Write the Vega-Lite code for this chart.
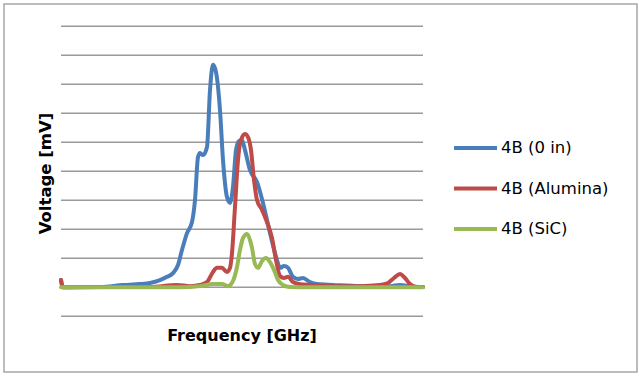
{
  "$schema": "https://vega.github.io/schema/vega-lite/v6.json",
  "width": 640,
  "height": 378,
  "autosize": {"type": "fit", "contains": "padding"},
  "padding": {"left": 4, "top": 4, "right": 3, "bottom": 6},
  "background": "white",
  "config": {
    "view": {"stroke": "#a6a6a6", "strokeWidth": 1.5},
    "font": "DejaVu Sans"
  },
  "datasets": {
    "grid": [{"g": -1}, {"g": 0}, {"g": 1}, {"g": 2}, {"g": 3}, {"g": 4}, {"g": 5}, {"g": 6}, {"g": 7}, {"g": 8}, {"g": 9}],
    "series": [
      {"s": "4B (0 in)", "f": 0, "v": 0.25},
      {"s": "4B (0 in)", "f": 2, "v": 0},
      {"s": "4B (0 in)", "f": 19, "v": 0.01},
      {"s": "4B (0 in)", "f": 39, "v": 0.01},
      {"s": "4B (0 in)", "f": 62, "v": 0.08},
      {"s": "4B (0 in)", "f": 79, "v": 0.11},
      {"s": "4B (0 in)", "f": 89, "v": 0.15},
      {"s": "4B (0 in)", "f": 99, "v": 0.25},
      {"s": "4B (0 in)", "f": 106, "v": 0.36},
      {"s": "4B (0 in)", "f": 112, "v": 0.49},
      {"s": "4B (0 in)", "f": 117, "v": 0.77},
      {"s": "4B (0 in)", "f": 121, "v": 1.29},
      {"s": "4B (0 in)", "f": 126, "v": 1.87},
      {"s": "4B (0 in)", "f": 131, "v": 2.25},
      {"s": "4B (0 in)", "f": 134, "v": 3.01},
      {"s": "4B (0 in)", "f": 137, "v": 4.49},
      {"s": "4B (0 in)", "f": 139, "v": 4.63},
      {"s": "4B (0 in)", "f": 142, "v": 4.56},
      {"s": "4B (0 in)", "f": 146, "v": 4.84},
      {"s": "4B (0 in)", "f": 149, "v": 6.8},
      {"s": "4B (0 in)", "f": 152, "v": 7.67},
      {"s": "4B (0 in)", "f": 155, "v": 7.42},
      {"s": "4B (0 in)", "f": 159, "v": 6.11},
      {"s": "4B (0 in)", "f": 162, "v": 4.39},
      {"s": "4B (0 in)", "f": 166, "v": 3.11},
      {"s": "4B (0 in)", "f": 169, "v": 2.91},
      {"s": "4B (0 in)", "f": 172, "v": 3.46},
      {"s": "4B (0 in)", "f": 175, "v": 4.73},
      {"s": "4B (0 in)", "f": 178, "v": 5.04},
      {"s": "4B (0 in)", "f": 181, "v": 5.08},
      {"s": "4B (0 in)", "f": 184, "v": 4.73},
      {"s": "4B (0 in)", "f": 189, "v": 4.04},
      {"s": "4B (0 in)", "f": 196, "v": 3.63},
      {"s": "4B (0 in)", "f": 202, "v": 2.91},
      {"s": "4B (0 in)", "f": 209, "v": 1.87},
      {"s": "4B (0 in)", "f": 216, "v": 0.94},
      {"s": "4B (0 in)", "f": 219, "v": 0.67},
      {"s": "4B (0 in)", "f": 223, "v": 0.73},
      {"s": "4B (0 in)", "f": 227, "v": 0.67},
      {"s": "4B (0 in)", "f": 232, "v": 0.36},
      {"s": "4B (0 in)", "f": 237, "v": 0.29},
      {"s": "4B (0 in)", "f": 242, "v": 0.32},
      {"s": "4B (0 in)", "f": 249, "v": 0.18},
      {"s": "4B (0 in)", "f": 256, "v": 0.11},
      {"s": "4B (0 in)", "f": 272, "v": 0.08},
      {"s": "4B (0 in)", "f": 299, "v": 0.04},
      {"s": "4B (0 in)", "f": 329, "v": 0.04},
      {"s": "4B (0 in)", "f": 339, "v": 0.08},
      {"s": "4B (0 in)", "f": 349, "v": 0.04},
      {"s": "4B (0 in)", "f": 362, "v": 0.01},
      {"s": "4B (Alumina)", "f": 0, "v": 0.25},
      {"s": "4B (Alumina)", "f": 2, "v": 0},
      {"s": "4B (Alumina)", "f": 39, "v": 0.01},
      {"s": "4B (Alumina)", "f": 89, "v": 0.01},
      {"s": "4B (Alumina)", "f": 116, "v": 0.08},
      {"s": "4B (Alumina)", "f": 129, "v": 0.04},
      {"s": "4B (Alumina)", "f": 139, "v": 0.08},
      {"s": "4B (Alumina)", "f": 146, "v": 0.18},
      {"s": "4B (Alumina)", "f": 152, "v": 0.53},
      {"s": "4B (Alumina)", "f": 156, "v": 0.67},
      {"s": "4B (Alumina)", "f": 161, "v": 0.67},
      {"s": "4B (Alumina)", "f": 166, "v": 0.53},
      {"s": "4B (Alumina)", "f": 169, "v": 0.67},
      {"s": "4B (Alumina)", "f": 171, "v": 1.18},
      {"s": "4B (Alumina)", "f": 174, "v": 2.77},
      {"s": "4B (Alumina)", "f": 177, "v": 4.39},
      {"s": "4B (Alumina)", "f": 180, "v": 5.08},
      {"s": "4B (Alumina)", "f": 184, "v": 5.29},
      {"s": "4B (Alumina)", "f": 187, "v": 5.18},
      {"s": "4B (Alumina)", "f": 190, "v": 4.73},
      {"s": "4B (Alumina)", "f": 193, "v": 3.7},
      {"s": "4B (Alumina)", "f": 196, "v": 3.01},
      {"s": "4B (Alumina)", "f": 201, "v": 2.67},
      {"s": "4B (Alumina)", "f": 206, "v": 2.25},
      {"s": "4B (Alumina)", "f": 211, "v": 1.7},
      {"s": "4B (Alumina)", "f": 215, "v": 0.94},
      {"s": "4B (Alumina)", "f": 219, "v": 0.39},
      {"s": "4B (Alumina)", "f": 223, "v": 0.32},
      {"s": "4B (Alumina)", "f": 227, "v": 0.36},
      {"s": "4B (Alumina)", "f": 232, "v": 0.18},
      {"s": "4B (Alumina)", "f": 239, "v": 0.11},
      {"s": "4B (Alumina)", "f": 249, "v": 0.08},
      {"s": "4B (Alumina)", "f": 269, "v": 0.04},
      {"s": "4B (Alumina)", "f": 299, "v": 0.04},
      {"s": "4B (Alumina)", "f": 319, "v": 0.08},
      {"s": "4B (Alumina)", "f": 327, "v": 0.15},
      {"s": "4B (Alumina)", "f": 333, "v": 0.32},
      {"s": "4B (Alumina)", "f": 339, "v": 0.46},
      {"s": "4B (Alumina)", "f": 344, "v": 0.32},
      {"s": "4B (Alumina)", "f": 349, "v": 0.11},
      {"s": "4B (Alumina)", "f": 355, "v": 0.01},
      {"s": "4B (Alumina)", "f": 362, "v": 0.01},
      {"s": "4B (SiC)", "f": 0, "v": 0},
      {"s": "4B (SiC)", "f": 39, "v": 0},
      {"s": "4B (SiC)", "f": 119, "v": 0},
      {"s": "4B (SiC)", "f": 139, "v": 0.04},
      {"s": "4B (SiC)", "f": 152, "v": 0.11},
      {"s": "4B (SiC)", "f": 161, "v": 0.11},
      {"s": "4B (SiC)", "f": 167, "v": 0.04},
      {"s": "4B (SiC)", "f": 172, "v": 0.22},
      {"s": "4B (SiC)", "f": 176, "v": 0.7},
      {"s": "4B (SiC)", "f": 179, "v": 1.29},
      {"s": "4B (SiC)", "f": 182, "v": 1.7},
      {"s": "4B (SiC)", "f": 186, "v": 1.84},
      {"s": "4B (SiC)", "f": 189, "v": 1.63},
      {"s": "4B (SiC)", "f": 191, "v": 1.36},
      {"s": "4B (SiC)", "f": 194, "v": 0.8},
      {"s": "4B (SiC)", "f": 197, "v": 0.67},
      {"s": "4B (SiC)", "f": 201, "v": 0.91},
      {"s": "4B (SiC)", "f": 205, "v": 1.01},
      {"s": "4B (SiC)", "f": 209, "v": 0.87},
      {"s": "4B (SiC)", "f": 213, "v": 0.6},
      {"s": "4B (SiC)", "f": 217, "v": 0.25},
      {"s": "4B (SiC)", "f": 222, "v": 0.08},
      {"s": "4B (SiC)", "f": 229, "v": 0.01},
      {"s": "4B (SiC)", "f": 249, "v": 0},
      {"s": "4B (SiC)", "f": 362, "v": 0}
    ]
  },
  "layer": [
    {
      "data": {"name": "grid"},
      "mark": {"type": "rule", "color": "#9a9a9a", "strokeWidth": 1.4},
      "encoding": {
        "y": {"field": "g", "type": "quantitative"},
        "x": {"datum": 0, "type": "quantitative"},
        "x2": {"datum": 362}
      }
    },
    {
      "data": {"name": "series"},
      "mark": {"type": "line", "interpolate": "monotone", "strokeWidth": 4, "strokeCap": "round", "strokeJoin": "round"},
      "encoding": {
        "x": {
          "field": "f", "type": "quantitative",
          "scale": {"domain": [-57, 576], "nice": false, "zero": false},
          "axis": {"title": "Frequency [GHz]", "labels": false, "ticks": false, "domain": false, "grid": false,
                   "titleX": 237.5, "titleY": -37, "titleAlign": "center", "titleBaseline": "middle",
                   "titleFont": "DejaVu Sans", "titleFontSize": 16, "titleFontWeight": "bold", "titleColor": "#000000"}
        },
        "y": {
          "field": "v", "type": "quantitative",
          "scale": {"domain": [-2.921, 9.769], "nice": false, "zero": false},
          "axis": {"title": "Voltage [mV]", "labels": false, "ticks": false, "domain": false, "grid": false,
                   "titleX": 41, "titleY": 169, "titleAngle": -90, "titleAlign": "center", "titleBaseline": "middle",
                   "titleFont": "DejaVu Sans", "titleFontSize": 16.5, "titleFontWeight": "bold", "titleColor": "#000000"}
        },
        "color": {
          "field": "s", "type": "nominal",
          "scale": {"domain": ["4B (0 in)", "4B (Alumina)", "4B (SiC)"], "range": ["#4a7ebb", "#be4b48", "#98b954"]},
          "legend": {
            "title": null, "orient": "none", "legendX": 448, "legendY": 136,
            "symbolType": "stroke", "symbolSize": 1849, "symbolStrokeWidth": 4,
            "clipHeight": 16, "rowPadding": 23.5, "labelOffset": 2,
            "labelFont": "DejaVu Sans", "labelFontSize": 16.5, "labelColor": "#000000", "padding": 0
          }
        }
      }
    }
  ]
}
